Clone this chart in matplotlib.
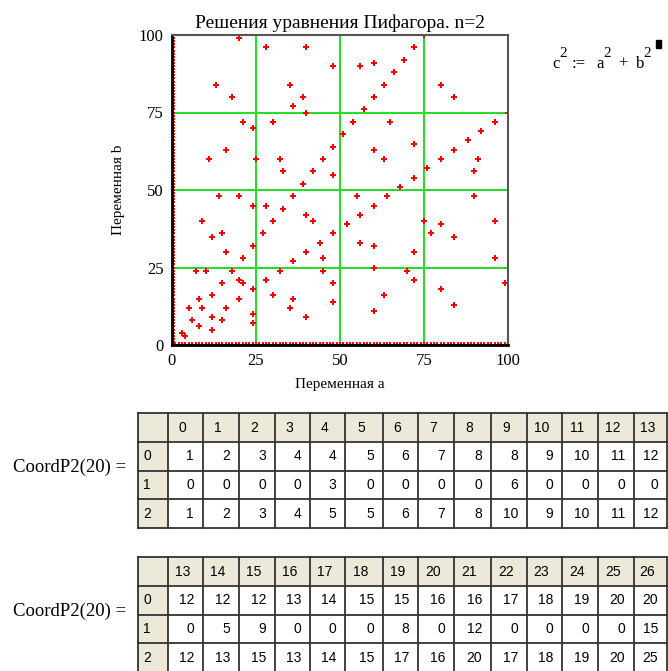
import matplotlib
matplotlib.use("Agg")
import matplotlib.pyplot as plt
from matplotlib.patches import Rectangle

# Pythagorean leg pairs (shorter leg, longer leg) with both legs <= 100
short_leg = [3, 6, 9, 12, 15, 18, 21, 24, 27, 30, 33, 36, 39, 42, 45, 48, 51, 54, 57,
             60, 63, 66, 69, 72, 75,
             5, 10, 15, 20, 25, 30, 35, 40,
             8, 16, 24, 32, 40, 48,
             7, 14, 21, 28,
             20, 40, 60, 80,
             12, 24, 9, 18, 28, 56,
             11, 16, 33, 48, 13, 36, 39, 65, 20, 60]
long_leg = [4, 8, 12, 16, 20, 24, 28, 32, 36, 40, 44, 48, 52, 56, 60, 64, 68, 72, 76,
            80, 84, 88, 92, 96, 100,
            12, 24, 36, 48, 60, 72, 84, 96,
            15, 30, 45, 60, 75, 90,
            24, 48, 72, 96,
            21, 42, 63, 84,
            35, 70, 40, 80, 45, 90,
            60, 63, 56, 55, 84, 77, 80, 72, 99, 91]
# trivial solutions with one leg equal to zero
zero_leg = list(range(0, 101))

# CoordP2(20) matrix rows: a, b, c
coord_cols = list(range(0, 27))
coord_a = [1, 2, 3, 4, 4, 5, 6, 7, 8, 8, 9, 10, 11, 12, 12, 12, 13, 14, 15, 15, 16, 16,
           17, 18, 19, 20, 20]
coord_b = [0, 0, 0, 0, 3, 0, 0, 0, 0, 6, 0, 0, 0, 0, 5, 9, 0, 0, 0, 8, 0, 12, 0, 0, 0,
           0, 15]
coord_c = [1, 2, 3, 4, 5, 5, 6, 7, 8, 10, 9, 10, 11, 12, 13, 15, 13, 14, 15, 17, 16, 20,
           17, 18, 19, 20, 25]

W, H = 668, 671
fig = plt.figure(figsize=(W / 100, H / 100), dpi=100)
serif = ["Liberation Serif", "DejaVu Serif"]
sans = ["Liberation Sans Narrow", "Liberation Sans", "DejaVu Sans"]

# --- scatter plot ---
x0, x1, y0, y1 = 172, 508, 35, 345
ax = fig.add_axes([x0 / W, 1 - y1 / H, (x1 - x0) / W, (y1 - y0) / H])
ax.set_xlim(0, 100)
ax.set_ylim(0, 100)
ax.set_xticks([0, 25, 50, 75, 100])
ax.set_yticks([0, 25, 50, 75, 100])
ax.grid(True, color="#22dd22", lw=1.4)
ax.set_axisbelow(True)
ax.tick_params(length=0, labelsize=12, pad=6)
for lab in ax.get_xticklabels() + ax.get_yticklabels():
    lab.set_family(serif)
for side in ("left", "bottom"):
    ax.spines[side].set_color("black")
    ax.spines[side].set_linewidth(2)
for side in ("top", "right"):
    ax.spines[side].set_color("#555555")
    ax.spines[side].set_linewidth(1.5)

mk = dict(marker="P", color="red", markersize=3.8, markeredgewidth=0, linestyle="none")
ax.plot(short_leg, long_leg, **mk)
ax.plot(long_leg, short_leg, **mk)
ax.plot([0] * len(zero_leg), zero_leg, clip_on=True, **mk)
ax.plot(zero_leg, [0] * len(zero_leg), clip_on=True, **mk)

ax.set_title("Решения уравнения Пифагора. n=2", family=serif, fontsize=14, pad=5)
ax.set_xlabel("Переменная a", family=serif, fontsize=11, labelpad=6)
ax.set_ylabel("Переменная b", family=serif, fontsize=11, labelpad=10)

# --- overlay in pixel coordinates for the formula and tables ---
ov = fig.add_axes([0, 0, 1, 1], zorder=5)
ov.set_xlim(0, W)
ov.set_ylim(H, 0)
ov.axis("off")

# c^2 := a^2 + b^2 with a text cursor at the end
eq_parts = [("c", 552, 68, 12), ("2", 559, 57, 11), (":=", 572, 68, 12),
            ("a", 596, 68, 12), ("2", 603, 57, 11), ("+", 618, 68, 12),
            ("b", 636, 68, 12), ("2", 643, 57, 11)]
for s, x, y, fs in eq_parts:
    ov.text(x, y, s, family=serif, fontsize=fs, ha="left", va="baseline")
ov.add_patch(Rectangle((656, 40), 5, 8, color="black"))

col_edges = [168, 203, 239, 275, 310, 345, 383, 418, 454, 491, 527, 562, 598, 634, 667]
header_bg = "#ece9d8"
line_c = "#333333"


def draw_table(top, first_col):
    rows = [top, top + 29, top + 58, top + 86, top + 115]
    left = 138
    # header backgrounds
    ov.add_patch(Rectangle((left, rows[0]), col_edges[-1] - left, rows[1] - rows[0],
                           color=header_bg, lw=0))
    ov.add_patch(Rectangle((left, rows[0]), col_edges[0] - left, rows[-1] - rows[0],
                           color=header_bg, lw=0))
    for y in rows:
        ov.plot([left, col_edges[-1]], [y, y], color=line_c, lw=1.3)
    for x in [left] + col_edges:
        ov.plot([x, x], [rows[0], rows[-1]], color=line_c, lw=1.3)
    for r, name in enumerate(["0", "1", "2"]):
        ov.text(left + 5, (rows[r + 1] + rows[r + 2]) / 2, name, family=sans,
                fontsize=10, va="center", ha="left")
    for j in range(14):
        idx = first_col + j
        xl, xr = col_edges[j], col_edges[j + 1]
        ov.text((xl + xr) / 2 - 3, (rows[0] + rows[1]) / 2, str(coord_cols[idx]),
                family=sans, fontsize=10, va="center", ha="center")
        for r, vals in enumerate([coord_a, coord_b, coord_c]):
            ov.text(xr - 9, (rows[r + 1] + rows[r + 2]) / 2, str(vals[idx]),
                    family=sans, fontsize=10, va="center", ha="right")
    ov.text(13, top + 54, "CoordP2(20) =", family=serif, fontsize=13.5,
            va="center", ha="left")


draw_table(413, 0)
draw_table(557, 13)

fig.savefig("out.png", dpi=100)
